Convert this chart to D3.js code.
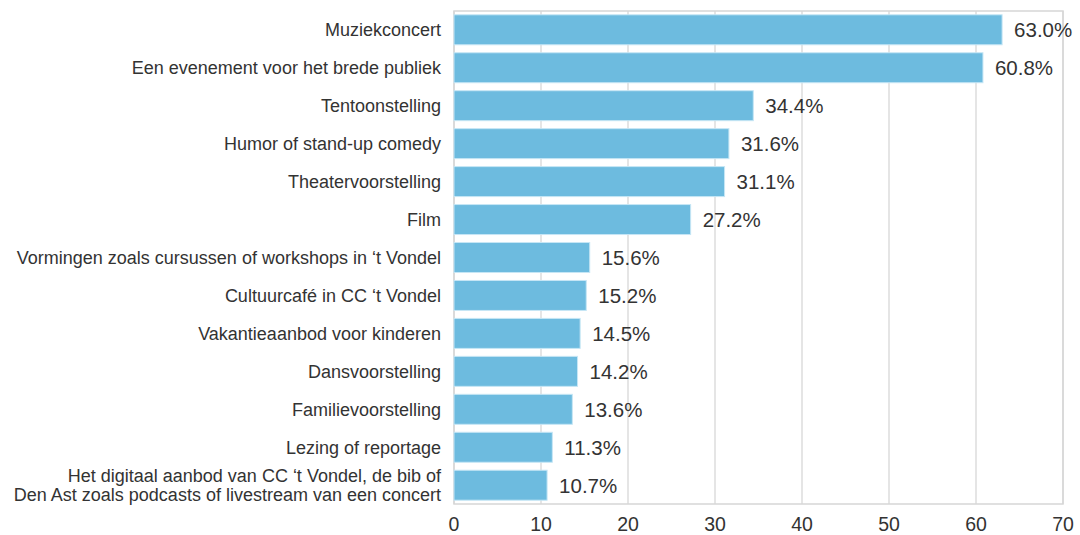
<!DOCTYPE html>
<html>
<head>
<meta charset="utf-8">
<script src="https://cdn.jsdelivr.net/npm/d3@7"></script>
<style>
  body { margin: 0; background: #fff; }
  svg { display: block; font-family: "Liberation Sans", Arial, sans-serif; }
</style>
</head>
<body>
<svg id="chart" width="1080" height="535"></svg>
<script>
const categories = [
    "Muziekconcert",
    "Een evenement voor het brede publiek",
    "Tentoonstelling",
    "Humor of stand-up comedy",
    "Theatervoorstelling",
    "Film",
    "Vormingen zoals cursussen of workshops in \u2018t Vondel",
    "Cultuurcafé in CC \u2018t Vondel",
    "Vakantieaanbod voor kinderen",
    "Dansvoorstelling",
    "Familievoorstelling",
    "Lezing of reportage",
    "Het digitaal aanbod van CC \u2018t Vondel, de bib of\nDen Ast zoals podcasts of livestream van een concert"
];
const values = [63.0, 60.8, 34.4, 31.6, 31.1, 27.2, 15.6, 15.2, 14.5, 14.2, 13.6, 11.3, 10.7];
const xTicks = [0, 10, 20, 30, 40, 50, 60, 70];

const margin = { top: 11, right: 17, bottom: 31, left: 454 };
const svg = d3.select("#chart");
const width = 1080 - margin.left - margin.right;
const height = 535 - margin.top - margin.bottom;

const g = svg.append("g").attr("transform", `translate(${margin.left},${margin.top})`);

const x = d3.scaleLinear().domain([0, 70]).range([0, width]);
const y = d3.scaleBand().domain(categories).range([0, height]).paddingInner(0.21).paddingOuter(0.1);

// grid
g.append("g")
    .selectAll("line")
    .data(xTicks)
    .enter()
    .append("line")
    .attr("x1", d => x(d))
    .attr("x2", d => x(d))
    .attr("y1", 0)
    .attr("y2", height)
    .attr("stroke", "#dcdcdc")
    .attr("stroke-width", 1.5);

// frame
g.append("rect")
    .attr("width", width)
    .attr("height", height)
    .attr("fill", "none")
    .attr("stroke", "#d6d6d6")
    .attr("stroke-width", 1.5);

// bars
g.append("g")
    .selectAll("rect")
    .data(values)
    .enter()
    .append("rect")
    .attr("x", x(0))
    .attr("y", (d, i) => y(categories[i]))
    .attr("width", d => x(d) - x(0))
    .attr("height", y.bandwidth())
    .attr("fill", "#6dbbdf")
    .attr("stroke", "#c6e6f5")
    .attr("stroke-width", 1);

// value labels
g.append("g")
    .selectAll("text")
    .data(values)
    .enter()
    .append("text")
    .attr("x", d => x(d) + 12)
    .attr("y", (d, i) => y(categories[i]) + y.bandwidth() / 2)
    .attr("dy", "0.36em")
    .attr("font-size", 20.5)
    .attr("fill", "#333")
    .text(d => d.toFixed(1) + "%");

// category labels
const labels = g.append("g")
    .selectAll("text")
    .data(categories)
    .enter()
    .append("text")
    .attr("text-anchor", "end")
    .attr("font-size", 18)
    .attr("fill", "#333")
    .attr("x", -13)
    .attr("y", d => y(d) + y.bandwidth() / 2);

labels.each(function(d) {
    const lines = d.split("\n");
    const t = d3.select(this);
    lines.forEach((line, i) => {
        t.append("tspan")
            .attr("x", -13)
            .attr("dy", i === 0 ? `${0.36 - (lines.length - 1) * 0.53}em` : "1.06em")
            .text(line);
    });
});

// x axis labels
g.append("g")
    .attr("transform", `translate(0,${height})`)
    .selectAll("text")
    .data(xTicks)
    .enter()
    .append("text")
    .attr("x", d => x(d))
    .attr("y", 27)
    .attr("text-anchor", "middle")
    .attr("font-size", 19.5)
    .attr("fill", "#333")
    .text(d => d);
</script>
</body>
</html>
